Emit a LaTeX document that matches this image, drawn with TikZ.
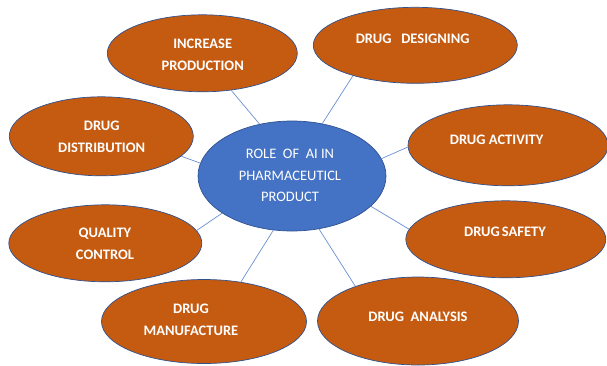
\documentclass[tikz,border=0pt]{standalone}
\usepackage{fontspec}
\setmainfont{Carlito}
\usetikzlibrary{shapes.geometric}
\definecolor{rust}{HTML}{C55A11}
\definecolor{edgeblue}{HTML}{2F528F}
\definecolor{midblue}{HTML}{4472C4}
\definecolor{linkblue}{HTML}{6A8FD2}
\begin{document}
\begin{tikzpicture}[x=1pt,y=-1pt,
  blob/.style={ellipse,draw=edgeblue,line width=0.7pt,fill=rust,inner sep=0pt},
  hub/.style={ellipse,draw=edgeblue,line width=0.7pt,fill=midblue,inner sep=0pt},
  txt/.style={text=white,align=center,inner sep=0pt,font=\fontsize{14.5}{22}\selectfont\bfseries},
  hubtxt/.style={text=white,align=center,inner sep=0pt,font=\fontsize{14.5}{21.5}\selectfont},
  link/.style={draw=linkblue,line width=0.7pt}]
\useasboundingbox (0,0) rectangle (607,365);
% hub
\node[hub,minimum width=188pt,minimum height=110pt] (c) at (292,176) {};
% outer ellipses
\node[blob,minimum width=190pt,minimum height=77pt] (ip) at (202.3,53.3) {};
\node[blob,minimum width=204pt,minimum height=76pt] (dd) at (415.3,45.3) {};
\node[blob,minimum width=184pt,minimum height=79pt] (dist) at (101.3,136.3) {};
\node[blob,minimum width=200pt,minimum height=81pt] (act) at (508,145.3) {};
\node[blob,minimum width=200pt,minimum height=77pt] (saf) at (505.8,239.3) {};
\node[blob,minimum width=193pt,minimum height=77pt] (qc) at (105.3,243.3) {};
\node[blob,minimum width=205pt,minimum height=84pt] (man) at (204,321.5) {};
\node[blob,minimum width=201pt,minimum height=88pt] (ana) at (418,321) {};
% connectors
\draw[link] (ip.-52) -- (c.122);
\draw[link] (dd.-154) -- (c.60);
\draw[link] (dist.-14) -- (c.172);
\draw[link] (act.181) -- (c.11);
\draw[link] (saf.174) -- (c.-21);
\draw[link] (qc.8) -- (c.-152);
\draw[link] (man.47) -- (c.-109);
\draw[link] (ana.151) -- (c.-63);
% texts
\node[hubtxt] (ct) at (290,175.8) {ROLE\ \ OF\ \ AI IN\\PHARMACEUTICL\\PRODUCT};
\node[txt] (ipt) at (202.7,54.5) {INCREASE\\PRODUCTION};
\node[txt] (ddt) at (412.7,39) {DRUG\ \ \ DESIGNING};
\node[txt] (distt) at (101.7,136.7) {DRUG\\DISTRIBUTION};
\node[txt] (actt) at (496.7,139.3) {DRUG ACTIVITY};
\node[txt] (saft) at (505,231.7) {DRUG\hspace{2pt}SAFETY};
\node[txt] (qct) at (105,243.7) {QUALITY\\CONTROL};
\node[txt] (mant) at (191,320) {DRUG\\MANUFACTURE};
\node[txt] (anat) at (418,316.7) {DRUG\ \ ANALYSIS};
\end{tikzpicture}
\end{document}
